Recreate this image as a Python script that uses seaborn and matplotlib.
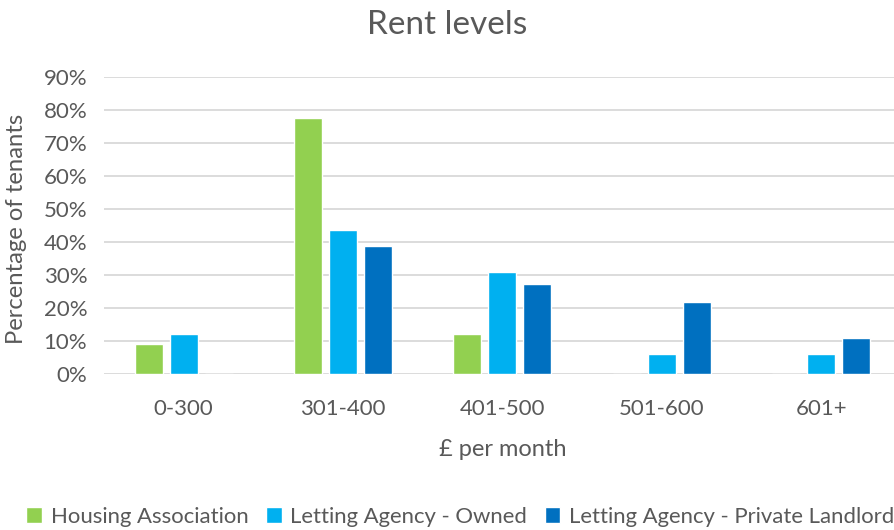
import numpy as np
import pandas as pd
import matplotlib
matplotlib.use('Agg')
import matplotlib.pyplot as plt
from matplotlib.ticker import PercentFormatter
import seaborn as sns

# values (percent of tenants)
bands = ['0-300', '301-400', '401-500', '501-600', '601+']
housing_assoc = [9.1, 77.4, 12.1, 0, 0]
agency_owned = [12.1, 43.6, 30.9, 6.1, 6.1]
agency_private = [0, 38.8, 27.3, 21.9, 10.9]
series_names = ['Housing Association', 'Letting Agency - Owned',
                'Letting Agency - Private Landlord']
colors = ['#92D050', '#00B0F0', '#0070C0']

df = pd.DataFrame({'band': bands,
                   series_names[0]: housing_assoc,
                   series_names[1]: agency_owned,
                   series_names[2]: agency_private})
long_df = df.melt(id_vars='band', var_name='tenure', value_name='pct')

sns.set_theme(style='white')
plt.rcParams['font.family'] = ['Lato', 'DejaVu Sans']
text_col = '#595959'

fig = plt.figure(figsize=(8.94, 5.30), dpi=100)
# plot area runs past the right edge, as in the (cropped) reference
ax = fig.add_axes([0.1163, 0.2934, 0.8915, 0.5619])

sns.barplot(data=long_df, x='band', y='pct', hue='tenure', order=bands,
            hue_order=series_names, palette=colors, width=0.659, gap=0.2,
            saturation=1, ax=ax)

ax.set_ylim(0, 90)
ax.set_yticks(np.arange(0, 91, 10))
ax.yaxis.set_major_formatter(PercentFormatter(100, decimals=0))
ax.grid(axis='y', color='#D9D9D9', linewidth=1.3)
ax.set_axisbelow(True)
for s in ax.spines.values():
    s.set_visible(False)
ax.tick_params(axis='both', length=0, labelsize=16, colors=text_col)
ax.tick_params(axis='x', pad=18)
ax.tick_params(axis='y', pad=12)

ax.set_xlabel('£ per month', fontsize=17, color=text_col, labelpad=14)
ax.set_ylabel('Percentage of tenants', fontsize=17.2, color=text_col)
ax.yaxis.set_label_coords(-0.0966, 0.49)
fig.suptitle('Rent levels', x=0.5, y=0.953, va='center', fontsize=24,
             color=text_col)

handles, labels = ax.get_legend_handles_labels()
ax.legend().remove()
fig.legend(handles, labels, loc='center', bbox_to_anchor=(0.515, 0.025),
           ncol=3, frameon=False, fontsize=15.9, labelcolor=text_col,
           handlelength=0.7, handleheight=0.7, handletextpad=0.4,
           columnspacing=0.8)

fig.savefig('out.png', dpi=100)
